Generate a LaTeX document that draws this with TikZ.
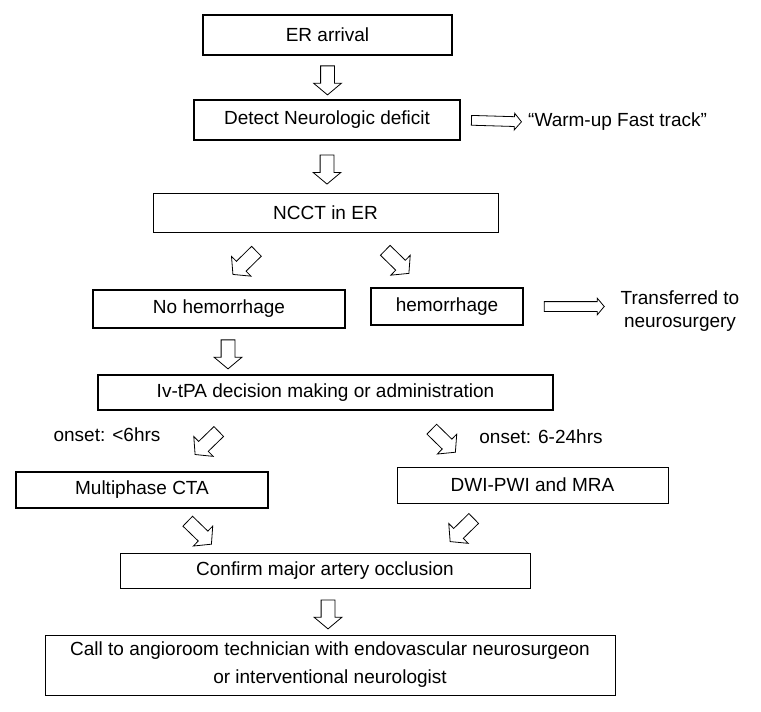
\documentclass[tikz,border=0pt]{standalone}
\usepackage{fontspec}
\setmainfont{Liberation Sans}
\usetikzlibrary{shapes.arrows, positioning}

\begin{document}
\begin{tikzpicture}[x=1pt, y=1pt,
        box/.style={draw, line width=1.7pt, inner sep=2pt, align=center, font=\fontsize{19}{28}\selectfont},
        thinbox/.style={box, line width=1pt},
        txt/.style={inner sep=0pt, align=center, font=\fontsize{19}{23}\selectfont},
        blk/.style={single arrow, draw, line width=0.8pt, inner xsep=0pt, inner ysep=6.5pt, minimum height=29pt, single arrow head extend=7pt, single arrow tip angle=100, sloped, allow upside down},
        dblk/.style={blk, minimum height=33pt},
        hblk/.style={blk, inner ysep=4.5pt, minimum height=50pt, single arrow head extend=3.5pt}]
    \useasboundingbox (0, 0) rectangle (761, -712);

    % boxes
    \node[box, minimum width=249, minimum height=40] (er) at (327.5, -35) {ER arrival};
    \node[box, minimum width=266, minimum height=40] (detect) at (327, -120) {Detect Neurologic deficit};
    \node[thinbox, minimum width=345, minimum height=39] (ncct) at (325.5, -212.5) {NCCT in ER};
    \node[box, minimum width=252, minimum height=38] (nohem) at (219, -309) {No hemorrhage};
    \node[box, minimum width=152, minimum height=37] (hem) at (447, -306.5) {hemorrhage};
    \node[box, minimum width=455, minimum height=35] (ivtpa) at (325.5, -392.5) {Iv-tPA decision making or administration};
    \node[box, minimum width=252, minimum height=36] (cta) at (142, -490) {Multiphase CTA};
    \node[thinbox, minimum width=271, minimum height=36] (dwi) at (532.5, -485) {DWI-PWI and MRA};
    \node[thinbox, minimum width=410, minimum height=35] (confirm) at (325, -570.5) {Confirm major artery occlusion};
    \node[thinbox, minimum width=570, minimum height=60] (call) at (330, -665) {Call to angioroom technician with endovascular neurosurgeon\\or interventional neurologist};

    % side texts
    \node[txt, anchor=west] (warm) at (528, -122) {“Warm-up Fast track”};
    \node[txt] (trans) at (680, -311) {Transferred to\\neurosurgery};
    \node[txt] (early) at (107, -435) {onset: <6hrs};
    \node[txt] (late) at (541, -437) {onset: 6-24hrs};

    % block arrows
    \path (er.south) -- node[blk] {} (er.south |- detect.north);
    \path (detect.east) -- node[hblk] {} (warm.west);
    \path (detect.south) -- node[blk] {} (detect.south |- ncct.north);
    \path ([xshift=-50pt]ncct.south) -- node[dblk] {} ([xshift=-1pt]nohem.north);
    \path ([xshift=41.5pt]ncct.south) -- node[dblk] {} ([xshift=-24pt]hem.north);
    \path (hem.east) -- node[hblk, minimum height=60pt] {} (trans.west |- hem.east);
    \path ([xshift=9pt]nohem.south) -- node[blk] {} ([xshift=9pt]nohem.south |- ivtpa.north);
    \path ([xshift=-85.5pt]ivtpa.south) -- node[dblk] {} ([xshift=36pt]cta.north);
    \path ([xshift=87.5pt]ivtpa.south) -- node[dblk] {} ([xshift=-62.5pt]dwi.north);
    \path ([xshift=33pt]cta.south) -- node[dblk] {} ([xshift=-105pt]confirm.north);
    \path ([xshift=-43.5pt]dwi.south) -- node[dblk] {} ([xshift=114pt]confirm.north);
    \path ([xshift=3pt]confirm.south) -- node[blk] {} ([xshift=3pt]confirm.south |- call.north);
\end{tikzpicture}
\end{document}
